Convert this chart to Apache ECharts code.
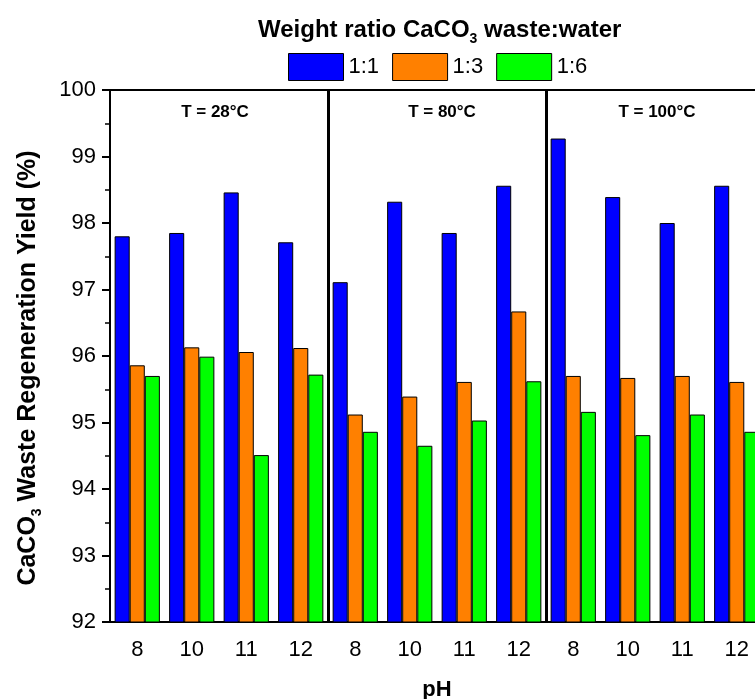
<!DOCTYPE html>
<html>
<head>
<meta charset="utf-8">
<script src="https://cdn.jsdelivr.net/npm/echarts@6/dist/echarts.min.js"></script>
<style>html,body{margin:0;padding:0;background:#fff}#c{width:755px;height:699px}</style>
</head>
<body>
<div id="c"></div>
<script>
const temps = ['28', '80', '100'];
const phLabels = ['8', '10', '11', '12'];
const seriesNames = ['1:1', '1:3', '1:6'];
const ratio11 = [97.80, 97.85, 98.46, 97.71, 97.11, 98.32, 97.85, 98.56, 99.27, 98.39, 98.00, 98.56];
const ratio13 = [95.86, 96.13, 96.06, 96.12, 95.12, 95.39, 95.61, 96.67, 95.70, 95.67, 95.70, 95.61];
const ratio16 = [95.70, 95.99, 94.51, 95.72, 94.86, 94.65, 95.03, 95.62, 95.16, 94.81, 95.12, 94.86];
const yTicks = [92, 93, 94, 95, 96, 97, 98, 99, 100];
const panelLabels = ['T = 28°C', 'T = 80°C', 'T = 100°C'];

const categories = [];
temps.forEach(t => phLabels.forEach(p => categories.push(t + '|' + p)));
const colors = ['#0000FF', '#FF8000', '#00FF00'];
const FONT = '"Liberation Sans", Arial, sans-serif';

const chart = echarts.init(document.getElementById('c'), null, {renderer: 'canvas'});
const values = [ratio11, ratio13, ratio16];
const panelX = [215, 442, 657];
chart.setOption({
  animation: false,
  textStyle: {fontFamily: FONT},
  title: {
    text: 'Weight ratio CaCO{sub|3} waste:water',
    left: 253, top: 9,
    textStyle: {
      fontFamily: FONT, fontSize: 24, fontWeight: 'bold', color: '#000',
      rich: {sub: {fontFamily: FONT, fontSize: 14, fontWeight: 'bold', color: '#000', padding: [18, 0, 0, 0]}}
    }
  },
  legend: {
    left: 288, top: 53, padding: 0,
    itemWidth: 55, itemHeight: 27, itemGap: 13,
    icon: 'rect',
    textStyle: {fontFamily: FONT, fontSize: 22, color: '#000'},
    data: seriesNames,
    itemStyle: {borderColor: '#000', borderWidth: 1}
  },
  grid: {left: 110, top: 90, width: 654, height: 532, outerBoundsMode: 'none', containLabel: false, show: true, borderColor: '#000', borderWidth: 2, backgroundColor: 'transparent'},
  xAxis: {
    type: 'category',
    data: categories,
    name: 'pH',
    nameLocation: 'middle',
    nameGap: 57,
    nameTextStyle: {fontFamily: FONT, fontSize: 22, fontWeight: 'bold', color: '#000'},
    axisLine: {lineStyle: {color: '#000', width: 2}},
    axisTick: {alignWithLabel: true, length: 8, lineStyle: {color: '#000', width: 2}},
    axisLabel: {fontFamily: FONT, fontSize: 22, color: '#000', margin: 17, formatter: v => v.split('|')[1], interval: 0},
    splitLine: {show: true, interval: (i) => i === 4 || i === 8, lineStyle: {color: '#000', width: 3}}
  },
  yAxis: {
    type: 'value',
    min: yTicks[0], max: yTicks[yTicks.length - 1], interval: 1,
    name: 'CaCO{sub|3} Waste Regeneration Yield (%)',
    nameLocation: 'middle',
    nameGap: 66,
    nameTextStyle: {
      fontFamily: FONT, fontSize: 25, fontWeight: 'bold', color: '#000', padding: [0, 24, 0, 0],
      rich: {sub: {fontFamily: FONT, fontSize: 14, fontWeight: 'bold', color: '#000', padding: [18, 0, 0, 0]}}
    },
    axisLine: {show: true, lineStyle: {color: '#000', width: 2}},
    axisTick: {show: true, length: 8, lineStyle: {color: '#000', width: 2}},
    minorTick: {show: true, splitNumber: 2, length: 5, lineStyle: {color: '#000', width: 1.5}},
    axisLabel: {fontFamily: FONT, fontSize: 22, color: '#000', margin: 14},
    splitLine: {show: false}
  },
  graphic: panelLabels.map((t, i) => ({
    type: 'text', x: panelX[i], y: 112,
    style: {text: t, font: 'bold 17px ' + FONT, fill: '#000', align: 'center', verticalAlign: 'middle'}
  })),
  series: seriesNames.map((n, k) => ({
    name: n,
    type: 'bar',
    data: values[k],
    barGap: '0%',
    barCategoryGap: '17%',
    itemStyle: {color: colors[k], borderColor: '#000', borderWidth: 1}
  }))
});
</script>
</body>
</html>
